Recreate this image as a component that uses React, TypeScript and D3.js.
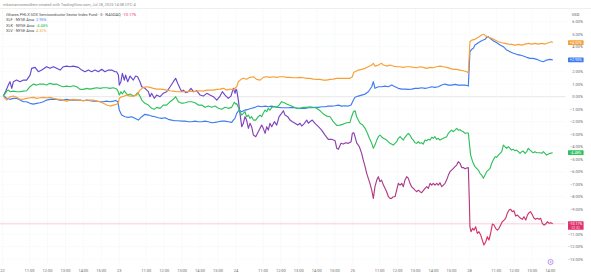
import React, { useEffect, useRef } from 'react';
import * as d3 from 'd3';

// time = trading hours since Jul 22 09:30 (each session 09:30-16:00 = 6.5h)
const dayLabels = ['22', '23', '24', '25', '28'];
const hourLabels = ['11:00', '12:00', '13:00', '14:00', '15:00'];
const hourOffsets = [1.5, 2.5, 3.5, 4.5, 5.5];
const lastDayHourCount = 4; // 28th only shows 11:00..14:00
const pctTicks = [6, 5, 4, 3, 2, 1, 0, -1, -2, -3, -4, -5, -6, -7, -8, -9, -10, -11, -12, -13];

const symbols = [
  'iShares PHLX SOX Semiconductor Sector Index Fund · 5 · NASDAQ',
  'XLF · NYSE Arca',
  'XLK · NYSE Arca',
  'XLV · NYSE Arca',
];

const soxx: [number, number][] = [
  [0.04,0.05],[0.19,0.5],[0.32,0.93],[0.41,1.2],[0.51,0.67],[0.6,1.2],[0.78,1.33],[0.97,1.2],[1.16,1.33],[1.34,1.33],[1.53,1.73],[1.62,2.27],[1.81,2.35],[1.99,2.0],[2.18,2.13],[2.45,2.4],[2.64,2.27],[2.83,2.4],[3.01,2.27],[3.2,2.13],[3.38,2.4],[3.57,2.45],[3.76,2.4],[3.94,2.45],[4.22,2.35],[4.41,2.13],[4.59,2.0],[4.78,2.13],[4.96,2.0],[5.15,2.13],[5.33,2.0],[5.52,2.19],[5.7,2.0],[5.89,2.13],[6.08,2.13],[6.26,2.0],[6.35,2.0],[6.45,1.73],[6.5,0.93],
  [6.59,1.2],[6.67,1.87],[6.78,1.33],[6.85,1.73],[6.97,1.2],[7.1,1.65],[7.28,1.33],[7.41,1.65],[7.52,1.6],[7.65,1.2],[7.75,0.8],[7.93,0.67],[8.12,0.4],[8.21,0],[8.3,0.27],[8.45,-0.13],[8.58,0.13],[8.77,0],[8.95,0.27],[9.14,0.4],[9.33,0.8],[9.51,1.2],[9.64,1.47],[9.75,1.07],[9.88,0.67],[9.98,0.4],[10.07,0.53],[10.2,0.32],[10.35,0.4],[10.49,0.67],[10.63,0.4],[10.81,0.48],[11.0,0.13],[11.18,0.05],[11.37,0.27],[11.55,0.13],[11.74,0],[11.93,-0.27],[12.11,0.05],[12.24,0.4],[12.39,0.13],[12.57,-0.13],[12.72,0.05],[12.85,0.67],[12.95,0.27],[13.0,0.6],
  [13.04,0.53],[13.13,-0.27],[13.22,-1.33],[13.32,-2.4],[13.41,-2.13],[13.5,-1.6],[13.59,-1.87],[13.69,-2.53],[13.78,-2.13],[13.87,-2.4],[13.97,-3.07],[14.1,-3.2],[14.24,-2.8],[14.34,-2.53],[14.43,-2.27],[14.52,-2.53],[14.62,-2.93],[14.71,-2.4],[14.8,-2.67],[14.89,-2.13],[14.99,-2.4],[15.14,-2.0],[15.27,-2.27],[15.4,-1.6],[15.54,-1.33],[15.64,-1.12],[15.73,-1.47],[15.88,-1.6],[16.01,-1.87],[16.14,-2.0],[16.29,-2.13],[16.44,-2.27],[16.57,-2.13],[16.66,-2.35],[16.81,-2.13],[16.94,-1.87],[17.03,-2.13],[17.12,-2.0],[17.25,-1.87],[17.4,-2.13],[17.59,-2.4],[17.77,-2.67],[17.96,-3.07],[18.14,-3.41],[18.33,-3.41],[18.52,-3.52],[18.61,-4.13],[18.7,-4.21],[18.85,-3.73],[18.98,-3.79],[19.11,-3.68],[19.26,-3.73],[19.41,-3.6],[19.48,-2.93],
  [19.56,-2.88],[19.63,-3.2],[19.72,-3.7],[19.81,-3.87],[19.87,-4.0],[20.0,-4.53],[20.09,-5.07],[20.19,-5.6],[20.28,-6.13],[20.37,-6.53],[20.46,-6.93],[20.56,-7.47],[20.65,-8.13],[20.74,-7.2],[20.84,-6.67],[20.93,-6.4],[21.02,-6.8],[21.11,-6.67],[21.21,-7.07],[21.3,-7.33],[21.39,-7.6],[21.49,-8.0],[21.58,-8.13],[21.67,-8.13],[21.76,-8.0],[21.86,-8.0],[21.95,-7.47],[22.04,-6.93],[22.14,-7.07],[22.23,-6.93],[22.32,-7.2],[22.41,-6.67],[22.51,-6.4],[22.6,-6.53],[22.69,-6.93],[22.78,-7.2],[22.88,-7.33],[22.97,-7.47],[23.06,-7.6],[23.16,-7.47],[23.25,-7.6],[23.34,-7.68],[23.43,-7.52],[23.53,-7.33],[23.62,-7.2],[23.71,-7.33],[23.81,-6.93],[23.9,-7.07],[23.99,-6.93],[24.08,-7.07],[24.18,-6.93],[24.27,-7.07],[24.36,-6.88],[24.46,-7.2],[24.55,-7.07],[24.64,-6.93],[24.73,-6.67],[24.83,-6.27],[24.92,-6.0],[25.01,-5.87],[25.11,-5.73],[25.2,-5.6],[25.29,-5.47],[25.38,-5.2],[25.48,-5.33],[25.57,-5.67],[25.66,-5.67],[25.76,-5.77],[25.85,-5.7],[25.94,-5.67],
  [26.0,-8.53],[26.03,-10.4],[26.09,-10.8],[26.18,-10.53],[26.26,-10.67],[26.35,-10.4],[26.44,-10.93],[26.53,-10.8],[26.63,-11.07],[26.72,-11.47],[26.81,-11.87],[26.91,-11.6],[27.0,-11.2],[27.09,-11.47],[27.18,-10.93],[27.28,-10.19],[27.37,-10.27],[27.46,-10.53],[27.56,-10.67],[27.65,-10.53],[27.74,-10.27],[27.83,-10.0],[27.93,-9.87],[28.02,-9.73],[28.11,-9.33],[28.21,-9.07],[28.3,-9.01],[28.39,-9.2],[28.48,-9.12],[28.58,-9.55],[28.67,-9.47],[28.76,-9.6],[28.86,-9.73],[28.95,-9.81],[29.04,-9.6],[29.14,-9.87],[29.23,-9.47],[29.32,-9.28],[29.41,-9.2],[29.51,-9.47],[29.6,-9.73],[29.69,-9.81],[29.78,-9.73],[29.88,-9.81],[29.97,-9.73],[30.06,-10.13],[30.16,-10.27],[30.25,-10.19],[30.34,-10.0],[30.44,-10.13],[30.53,-10.08],[30.64,-10.17],
];

const xlf: [number, number][] = [
  [0.04,0.05],[0.13,0],[0.23,-0.13],[0.41,-0.21],[0.6,-0.13],[0.78,-0.13],[0.97,-0.27],[1.16,-0.4],[1.34,-0.4],[1.53,-0.53],[1.71,-0.59],[1.9,-0.53],[2.08,-0.48],[2.27,-0.4],[2.45,-0.27],[2.64,-0.21],[2.83,-0.19],[3.01,-0.21],[3.2,-0.27],[3.38,-0.27],[3.57,-0.21],[3.76,-0.27],[3.94,-0.27],[4.13,-0.27],[4.31,-0.27],[4.5,-0.32],[4.69,-0.27],[4.87,-0.32],[5.06,-0.35],[5.24,-0.35],[5.43,-0.4],[5.61,-0.4],[5.8,-0.35],[5.98,-0.4],[6.17,-0.35],[6.3,-0.3],[6.42,-0.4],[6.5,-1.07],
  [6.63,-1.47],[6.82,-1.6],[7.0,-1.65],[7.19,-1.6],[7.37,-1.73],[7.56,-1.87],[7.75,-1.6],[7.93,-1.41],[8.12,-1.47],[8.3,-1.55],[8.49,-1.6],[8.67,-1.68],[8.86,-1.73],[9.05,-1.68],[9.23,-1.81],[9.42,-1.87],[9.6,-1.92],[9.79,-1.92],[9.98,-1.95],[10.16,-1.95],[10.35,-2.0],[10.53,-2.0],[10.72,-1.95],[10.9,-2.0],[11.09,-2.0],[11.27,-1.95],[11.46,-2.0],[11.65,-2.08],[11.83,-2.05],[12.02,-2.0],[12.2,-1.95],[12.39,-1.95],[12.57,-2.0],[12.76,-2.05],[12.85,-1.87],[12.94,-1.73],
  [13.04,-1.33],[13.17,-1.07],[13.32,-1.2],[13.5,-1.07],[13.69,-1.01],[13.87,-0.93],[14.06,-0.85],[14.24,-0.75],[14.43,-0.8],[14.62,-0.75],[14.8,-0.8],[14.99,-0.75],[15.17,-0.8],[15.36,-0.85],[15.54,-0.88],[15.73,-0.88],[15.92,-0.88],[16.1,-0.85],[16.29,-0.88],[16.47,-0.93],[16.66,-0.93],[16.84,-0.93],[17.03,-0.88],[17.22,-0.88],[17.4,-0.85],[17.59,-0.85],[17.77,-0.8],[17.96,-0.8],[18.14,-0.75],[18.33,-0.75],[18.52,-0.72],[18.7,-0.67],[18.89,-0.75],[19.07,-0.72],[19.26,-0.75],[19.41,-0.67],
  [19.54,-0.27],[19.63,-0.05],[19.81,0.05],[20.0,0.13],[20.19,0.21],[20.37,0.4],[20.56,0.8],[20.65,1.2],[20.74,0.67],[20.93,0.8],[21.11,0.8],[21.3,0.85],[21.49,0.8],[21.67,0.93],[21.86,0.8],[22.04,0.67],[22.23,0.61],[22.41,0.61],[22.6,0.59],[22.78,0.61],[22.97,0.67],[23.16,0.67],[23.34,0.72],[23.53,0.67],[23.71,0.72],[23.9,0.8],[24.08,0.75],[24.27,0.8],[24.46,0.93],[24.64,1.01],[24.83,0.93],[25.01,0.93],[25.2,0.99],[25.38,0.93],[25.57,0.93],[25.76,0.93],[25.94,0.85],
  [26.03,3.6],[26.13,3.79],[26.22,3.87],[26.31,4.13],[26.5,4.32],[26.68,4.48],[26.87,4.59],[26.96,4.75],[27.05,4.8],[27.15,4.67],[27.33,4.48],[27.52,4.32],[27.71,4.13],[27.89,4.0],[28.08,3.73],[28.26,3.6],[28.45,3.47],[28.63,3.39],[28.82,3.33],[29.0,3.25],[29.19,3.15],[29.38,3.07],[29.56,3.07],[29.75,2.99],[29.93,2.88],[30.12,2.8],[30.3,2.93],[30.49,2.99],[30.64,2.95],
];

const xlk: [number, number][] = [
  [0.04,0.05],[0.23,0.45],[0.32,0.53],[0.41,0.4],[0.6,0.45],[0.78,0.4],[0.97,0.4],[1.16,0.45],[1.34,0.48],[1.53,0.8],[1.71,1.01],[1.9,0.93],[2.08,1.01],[2.27,1.01],[2.45,0.93],[2.64,1.07],[2.83,0.99],[3.01,1.01],[3.2,0.88],[3.38,0.8],[3.57,0.85],[3.76,0.8],[3.94,0.88],[4.13,0.8],[4.31,0.59],[4.5,0.59],[4.69,0.67],[4.87,0.61],[5.06,0.67],[5.24,0.72],[5.43,0.67],[5.61,0.72],[5.8,0.72],[5.98,0.67],[6.17,0.72],[6.35,0.61],[6.42,0.48],[6.5,0.13],
  [6.59,0.4],[6.67,0.21],[6.78,0.48],[6.85,0.32],[6.97,0.13],[7.1,0.21],[7.28,0.05],[7.41,0.13],[7.52,0.32],[7.65,0.05],[7.75,-0.27],[7.93,-0.53],[8.12,-0.67],[8.3,-0.93],[8.45,-1.01],[8.58,-0.85],[8.77,-0.93],[8.95,-0.67],[9.14,-0.67],[9.33,-0.4],[9.51,-0.21],[9.64,0],[9.79,-0.4],[9.98,-0.53],[10.16,-0.48],[10.35,-0.4],[10.53,-0.4],[10.72,-0.48],[10.9,-0.67],[11.09,-0.67],[11.27,-0.85],[11.46,-0.75],[11.65,-0.85],[11.83,-0.75],[12.02,-0.93],[12.2,-1.01],[12.39,-0.85],[12.57,-0.93],[12.76,-0.85],[12.91,-0.45],[13.0,-0.6],
  [13.04,-0.55],[13.13,-0.85],[13.22,-1.2],[13.32,-1.47],[13.41,-1.33],[13.5,-1.2],[13.59,-1.6],[13.69,-1.47],[13.78,-1.73],[13.87,-1.6],[13.97,-1.87],[14.1,-1.87],[14.24,-1.6],[14.34,-1.47],[14.43,-1.6],[14.52,-1.33],[14.62,-1.07],[14.71,-1.2],[14.8,-0.93],[14.89,-1.07],[14.99,-0.85],[15.14,-0.8],[15.27,-0.85],[15.4,-0.67],[15.54,-0.4],[15.69,-0.48],[15.82,-0.59],[15.95,-0.67],[16.1,-0.75],[16.25,-0.85],[16.38,-0.93],[16.57,-0.93],[16.75,-0.85],[16.94,-0.85],[17.12,-0.8],[17.31,-0.85],[17.49,-0.93],[17.68,-1.12],[17.87,-1.39],[18.05,-1.55],[18.24,-1.6],[18.42,-2.0],[18.61,-2.3],[18.79,-2.27],[18.98,-2.19],[19.17,-2.08],[19.35,-2.05],[19.44,-1.6],
  [19.54,-1.2],[19.63,-1.12],[19.72,-1.6],[19.81,-1.87],[19.91,-2.13],[20.06,-2.27],[20.19,-2.53],[20.32,-2.93],[20.43,-3.33],[20.56,-3.73],[20.65,-4.13],[20.74,-3.87],[20.84,-3.47],[20.93,-3.2],[21.02,-3.07],[21.11,-3.2],[21.21,-3.33],[21.39,-3.47],[21.58,-3.73],[21.76,-3.87],[21.95,-3.6],[22.04,-3.33],[22.14,-3.2],[22.23,-3.33],[22.32,-3.47],[22.41,-3.25],[22.51,-3.07],[22.6,-2.93],[22.69,-3.07],[22.78,-3.33],[22.88,-3.47],[22.97,-3.68],[23.06,-3.73],[23.16,-3.6],[23.25,-3.73],[23.34,-3.68],[23.43,-3.79],[23.53,-3.47],[23.62,-3.52],[23.71,-3.41],[23.81,-3.47],[23.9,-3.25],[23.99,-3.33],[24.08,-3.2],[24.18,-3.41],[24.27,-3.33],[24.36,-3.47],[24.55,-3.33],[24.73,-3.2],[24.83,-2.93],[24.92,-2.8],[25.01,-2.67],[25.11,-2.8],[25.2,-2.67],[25.29,-2.53],[25.38,-2.67],[25.48,-2.64],[25.57,-2.75],[25.66,-2.8],[25.76,-2.93],[25.85,-2.9],[25.94,-2.9],
  [26.0,-3.73],[26.07,-4.67],[26.18,-5.2],[26.31,-5.6],[26.4,-5.73],[26.5,-5.87],[26.59,-6.13],[26.68,-6.27],[26.78,-6.53],[26.87,-6.27],[26.96,-6.0],[27.05,-5.87],[27.15,-5.73],[27.24,-5.33],[27.33,-5.07],[27.43,-4.8],[27.52,-4.85],[27.61,-4.67],[27.71,-4.53],[27.8,-4.4],[27.89,-3.87],[27.98,-4.0],[28.08,-4.13],[28.17,-4.0],[28.26,-4.13],[28.35,-4.27],[28.45,-4.21],[28.54,-4.32],[28.63,-4.27],[28.73,-4.4],[28.82,-4.53],[28.91,-4.4],[29.0,-4.35],[29.1,-4.53],[29.19,-4.4],[29.28,-4.13],[29.38,-4.27],[29.47,-4.4],[29.56,-4.48],[29.65,-4.4],[29.75,-4.48],[29.93,-4.48],[30.03,-4.53],[30.12,-4.4],[30.21,-4.53],[30.3,-4.67],[30.4,-4.59],[30.49,-4.53],[30.64,-4.48],
];

const xlv: [number, number][] = [
  [0.04,0.05],[0.13,-0.13],[0.23,-0.27],[0.41,0],[0.6,0.05],[0.78,-0.05],[0.97,-0.21],[1.16,-0.19],[1.34,-0.13],[1.53,-0.08],[1.71,-0.05],[1.9,-0.13],[2.08,-0.08],[2.27,-0.05],[2.45,-0.08],[2.64,-0.05],[2.83,-0.13],[3.01,-0.19],[3.2,-0.21],[3.38,-0.27],[3.57,-0.35],[3.76,-0.27],[3.94,-0.21],[4.13,-0.27],[4.31,-0.27],[4.5,-0.32],[4.69,-0.27],[4.87,-0.27],[5.06,-0.27],[5.24,-0.35],[5.43,-0.4],[5.61,-0.53],[5.8,-0.67],[5.98,-0.75],[6.17,-0.67],[6.35,-0.6],[6.45,-0.5],[6.5,-0.13],
  [6.63,0],[6.78,0.05],[6.91,0.13],[7.1,0.05],[7.28,0.05],[7.47,0.13],[7.65,0.53],[7.84,0.75],[8.02,0.8],[8.21,0.75],[8.4,0.67],[8.58,0.61],[8.77,0.61],[8.95,0.59],[9.14,0.53],[9.33,0.48],[9.51,0.45],[9.7,0.4],[9.88,0.4],[10.07,0.4],[10.25,0.4],[10.44,0.45],[10.63,0.4],[10.81,0.45],[11.0,0.48],[11.18,0.45],[11.37,0.53],[11.55,0.53],[11.74,0.53],[11.93,0.59],[12.11,0.61],[12.3,0.67],[12.48,0.53],[12.67,0.61],[12.85,0.53],[12.95,0.7],
  [13.04,0.8],[13.13,1.2],[13.28,1.39],[13.41,1.47],[13.59,1.39],[13.78,1.55],[13.97,1.6],[14.15,1.39],[14.34,1.33],[14.52,1.55],[14.71,1.6],[14.89,1.55],[15.08,1.6],[15.27,1.55],[15.45,1.6],[15.64,1.6],[15.82,1.55],[16.01,1.55],[16.19,1.52],[16.38,1.52],[16.57,1.55],[16.75,1.52],[16.94,1.47],[17.12,1.47],[17.31,1.41],[17.49,1.39],[17.68,1.39],[17.87,1.33],[18.05,1.33],[18.24,1.39],[18.42,1.41],[18.61,1.47],[18.79,1.47],[18.98,1.47],[19.17,1.47],[19.35,1.47],[19.48,1.6],
  [19.56,1.95],[19.63,2.0],[19.81,2.13],[20.0,2.19],[20.19,2.27],[20.37,2.4],[20.56,2.53],[20.65,2.67],[20.74,2.45],[20.93,2.53],[21.11,2.67],[21.21,2.53],[21.39,2.45],[21.58,2.53],[21.76,2.45],[21.95,2.4],[22.14,2.4],[22.32,2.35],[22.51,2.4],[22.69,2.4],[22.88,2.35],[23.06,2.32],[23.25,2.4],[23.43,2.35],[23.62,2.27],[23.81,2.35],[23.99,2.32],[24.18,2.4],[24.36,2.45],[24.55,2.4],[24.73,2.35],[24.92,2.27],[25.11,2.19],[25.29,2.19],[25.48,2.13],[25.66,2.08],[25.85,2.0],[25.94,1.92],
  [26.03,4.4],[26.13,4.53],[26.31,4.59],[26.5,4.75],[26.68,4.93],[26.81,4.99],[26.92,4.85],[27.05,4.75],[27.24,4.67],[27.43,4.53],[27.61,4.4],[27.8,4.32],[27.98,4.27],[28.17,4.21],[28.35,4.19],[28.54,4.13],[28.73,4.19],[28.91,4.13],[29.1,4.21],[29.28,4.27],[29.47,4.21],[29.65,4.27],[29.84,4.21],[30.03,4.27],[30.21,4.21],[30.4,4.32],[30.58,4.4],[30.64,4.32],
];

const seriesList = [soxx, xlf, xlk, xlv];
const seriesColors = ['#e0336b', '#3f7bf2', '#2fc15c', '#f7a035'];

export default function App() {
  const svgRef = useRef<SVGSVGElement | null>(null);

  useEffect(() => {
    const width = 591, height = 278;
    const plotRight = 565.5, plotTop = 9, plotBottom = 265;
    const font = 'Roboto, "Noto Sans", sans-serif';

    const svg = d3.select(svgRef.current)
      .attr('width', width)
      .attr('height', height)
      .attr('viewBox', [0, 0, width, height].join(' '));
    svg.selectAll('*').remove();

    const x = d3.scaleLinear().domain([0, dayLabels.length * 6.5]).range([2.6, 586.1]);
    const y = d3.scaleLinear().domain([6, -13]).range([21.7, 259.2]);

    svg.append('rect').attr('width', width).attr('height', height).attr('fill', '#ffffff');

    // gradient for the main (SOX) line: violet on top -> crimson at the bottom
    const grad = svg.append('defs').append('linearGradient')
      .attr('id', 'soxGrad')
      .attr('gradientUnits', 'userSpaceOnUse')
      .attr('x1', 0).attr('x2', 0)
      .attr('y1', y(2.5)).attr('y2', y(-11.5));
    [[0, '#5f49d6'], [0.3, '#7d44c0'], [0.6, '#a23c92'], [0.85, '#c9366d'], [1, '#dc3360']].forEach(([o, c]) => {
      grad.append('stop').attr('offset', o as number).attr('stop-color', c as string);
    });

    // x tick positions
    const xTicks: { t: number; label: string }[] = [];
    dayLabels.forEach((d, i) => {
      xTicks.push({ t: i * 6.5, label: d });
      const n = i === dayLabels.length - 1 ? lastDayHourCount : hourLabels.length;
      for (let k = 0; k < n; k++) xTicks.push({ t: i * 6.5 + hourOffsets[k], label: hourLabels[k] });
    });

    // grid
    const grid = svg.append('g');
    grid.selectAll('line.h').data(pctTicks).join('line')
      .attr('x1', 0).attr('x2', plotRight)
      .attr('y1', d => y(d)).attr('y2', d => y(d))
      .attr('stroke', d => (d === 0 ? '#dedede' : '#f3f4f6'))
      .attr('stroke-width', d => (d === 0 ? 0.7 : 0.5));
    grid.selectAll('line.v').data(xTicks).join('line')
      .attr('x1', d => x(d.t)).attr('x2', d => x(d.t))
      .attr('y1', plotTop).attr('y2', plotBottom)
      .attr('stroke', '#f3f4f6').attr('stroke-width', 0.5);

    // top frame line
    svg.append('line').attr('x1', 0).attr('x2', width).attr('y1', 8.5).attr('y2', 8.5)
      .attr('stroke', '#e4e4e4').attr('stroke-width', 0.6);

    // last price line of main series
    const lastSox = soxx[soxx.length - 1][1];
    svg.append('line').attr('x1', 0).attr('x2', plotRight)
      .attr('y1', y(lastSox)).attr('y2', y(lastSox))
      .attr('stroke', '#e91e63').attr('stroke-opacity', 0.45).attr('stroke-width', 0.5);

    // lines
    const line = d3.line<[number, number]>().x(d => x(d[0])).y(d => y(d[1]));
    [0, 1, 2, 3].forEach(i => {
      svg.append('path')
        .datum(seriesList[i])
        .attr('fill', 'none')
        .attr('stroke', i === 0 ? 'url(#soxGrad)' : seriesColors[i])
        .attr('stroke-width', 1.15)
        .attr('stroke-linejoin', 'round')
        .attr('d', line);
    });

    // price-scale labels, hiding the ones covered by last-value boxes
    const lastVals = seriesList.map(s => s[s.length - 1][1]);
    const covered = (d: number) => lastVals.some((v, i) => {
      const dy = y(d) - y(v);
      return i === 0 ? dy > -4.2 && dy < 7.5 : Math.abs(dy) < 3.2;
    });

    svg.append('text').attr('x', 575.5).attr('y', 14).attr('text-anchor', 'middle')
      .attr('dominant-baseline', 'central').attr('font-family', font).attr('font-size', 4)
      .attr('fill', '#555').text('USD');
    svg.append('g').selectAll('text').data(pctTicks.filter(d => !covered(d))).join('text')
      .attr('x', 583).attr('y', d => y(d))
      .attr('text-anchor', 'end').attr('dominant-baseline', 'central')
      .attr('font-family', font).attr('font-size', 4).attr('fill', '#6b6b6b')
      .text(d => d3.format('.2f')(d) + '%');

    // x axis labels
    svg.append('g').selectAll('text').data(xTicks).join('text')
      .attr('x', d => x(d.t)).attr('y', 270.5)
      .attr('text-anchor', 'middle').attr('dominant-baseline', 'central')
      .attr('font-family', font).attr('font-size', 4).attr('fill', '#6b6b6b')
      .text(d => d.label);

    // last value boxes on the price scale
    const fmtSigned = (v: number) => (v > 0 ? '+' : '') + v.toFixed(2) + '%';
    [3, 1, 2].forEach(i => {
      const v = lastVals[i];
      svg.append('rect').attr('x', 568).attr('y', y(v) - 2.4).attr('width', 15.6).attr('height', 4.8)
        .attr('rx', 0.6).attr('fill', seriesColors[i]);
      svg.append('text').attr('x', 575.8).attr('y', y(v)).attr('text-anchor', 'middle')
        .attr('dominant-baseline', 'central').attr('font-family', font).attr('font-size', 3.7)
        .attr('fill', '#fff').text(fmtSigned(v));
    });
    svg.append('rect').attr('x', 568).attr('y', y(lastSox) - 2.6).attr('width', 15.6).attr('height', 8.6)
      .attr('rx', 0.6).attr('fill', seriesColors[0]);
    svg.append('text').attr('x', 575.8).attr('y', y(lastSox)).attr('text-anchor', 'middle')
      .attr('dominant-baseline', 'central').attr('font-family', font).attr('font-size', 3.7)
      .attr('fill', '#fff').text(fmtSigned(lastSox));
    svg.append('text').attr('x', 575.8).attr('y', y(lastSox) + 3.9).attr('text-anchor', 'middle')
      .attr('dominant-baseline', 'central').attr('font-family', font).attr('font-size', 3.2)
      .attr('fill', '#fff').attr('fill-opacity', 0.85).text('01:52');

    // event marker near the time axis
    const mk = svg.append('g').attr('transform', `translate(${x(30.52)},262)`);
    mk.append('circle').attr('r', 2.6).attr('fill', '#f6efff').attr('stroke', '#9b6ad6').attr('stroke-width', 0.6);
    mk.append('path').attr('d', 'M0.4,-1.4 L-0.8,0.2 L0.1,0.2 L-0.4,1.4 L0.9,-0.3 L0,-0.3 Z').attr('fill', '#9b6ad6');

    // header / legend
    svg.append('text').attr('x', 3).attr('y', 4.3).attr('dominant-baseline', 'central')
      .attr('font-family', font).attr('font-size', 3.9).attr('fill', '#8a8a8a')
      .text('mkamarnoreezdhen created with TradingView.com, Jul 28, 2025 14:08 UTC-4');

    const legendY = [14.2, 19.4, 24.7, 30];
    symbols.forEach((s, i) => {
      const t = svg.append('text').attr('x', 6).attr('y', legendY[i]).attr('dominant-baseline', 'central')
        .attr('font-family', font).attr('font-size', 3.9).attr('fill', '#4a4a4a');
      t.append('tspan').text(s);
      t.append('tspan').attr('dx', 1.8).attr('fill', seriesColors[i]).text(lastVals[i].toFixed(2) + '%');
    });
  }, []);

  return (
    <svg ref={svgRef} style={{ position: 'absolute', left: 0, top: 0, display: 'block' }}></svg>
  );
}
